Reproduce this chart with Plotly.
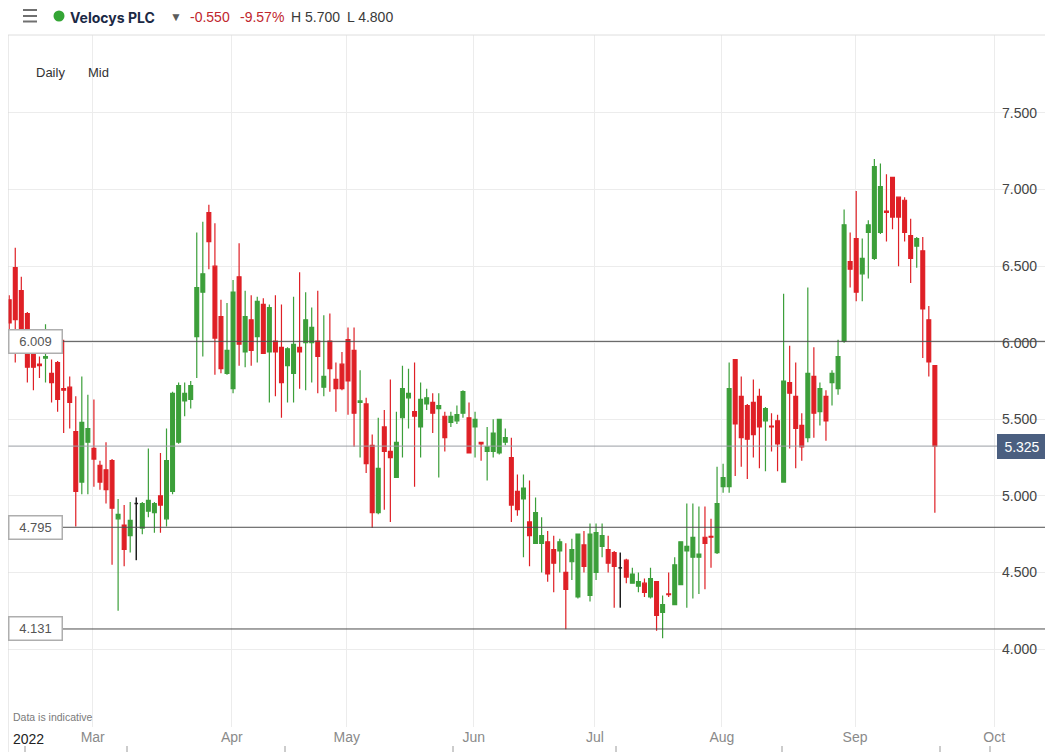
import numpy as np
import pandas as pd
import plotly.graph_objects as go

# ---------------- data ----------------
uk_holidays = ["2022-04-15", "2022-04-18", "2022-05-02", "2022-06-02",
               "2022-06-03", "2022-08-29", "2022-09-19"]
dates = pd.bdate_range("2022-02-09", "2022-09-21", freq="C", holidays=uk_holidays)

opens = [6.28, 6.49, 6.34, 6.19, 6.08, 5.86, 5.90, 5.80, 5.87, 5.70,
         5.71, 5.42, 5.09, 5.35, 5.31, 5.20, 5.17, 5.23, 4.85, 4.81,
         4.74, 4.95, 4.79, 4.90, 4.89, 5.00, 4.85, 5.03, 5.35, 5.62,
         5.63, 6.04, 6.33, 6.85, 6.50, 6.17, 5.80, 5.70, 6.43, 5.94,
         6.15, 6.04, 6.25, 5.94, 6.01, 5.97, 5.85, 5.80, 5.97, 6.00,
         6.00, 6.01, 5.71, 6.01, 5.76, 5.86, 6.02, 5.95, 5.61, 5.60,
         5.33, 4.89, 5.45, 5.29, 5.12, 5.51, 5.64, 5.55, 5.45, 5.60,
         5.61, 5.57, 5.52, 5.48, 5.49, 5.54, 5.51, 5.45, 5.35, 5.29,
         5.29, 5.28, 5.35, 5.25, 5.03, 4.98, 4.83, 4.69, 4.69, 4.70,
         4.65, 4.64, 4.50, 4.57, 4.34, 4.68, 4.35, 4.50, 4.67, 4.65,
         4.63, 4.53, 4.58, 4.43, 4.41, 4.43, 4.34, 4.44, 4.24, 4.36,
         4.29, 4.42, 4.64, 4.60, 4.60, 4.73, 4.735, 4.63, 5.06, 5.06,
         5.89, 5.65, 5.59, 5.61, 5.65, 5.49, 5.455, 5.49, 5.09, 5.74,
         5.65, 5.46, 5.38, 5.78, 5.55, 5.65, 5.74, 5.70, 6.01, 6.53,
         6.68, 6.45, 6.72, 6.55, 6.72, 6.86, 7.08, 6.95, 6.93, 6.70,
         6.63, 6.60, 6.15, 5.85]
highs = [6.31, 6.62, 6.43, 6.20, 6.09, 5.91, 6.12, 5.89, 5.88, 6.02,
         5.78, 5.65, 5.78, 5.66, 5.63, 5.23, 5.35, 5.24, 4.98, 4.94,
         4.96, 4.99, 4.96, 5.31, 4.96, 5.28, 5.44, 5.68, 5.74, 5.74,
         5.75, 6.72, 6.79, 6.90, 6.78, 6.28, 6.26, 6.41, 6.65, 6.34,
         6.31, 6.30, 6.29, 6.25, 6.31, 6.25, 5.97, 6.30, 6.46, 6.33,
         6.23, 6.34, 6.18, 6.19, 5.87, 5.94, 6.10, 6.10, 5.82, 5.64,
         5.40, 5.51, 5.56, 5.76, 5.55, 5.85, 5.83, 5.87, 5.74, 5.70,
         5.67, 5.67, 5.55, 5.55, 5.59, 5.69, 5.61, 5.55, 5.35, 5.45,
         5.50, 5.50, 5.44, 5.38, 5.14, 5.14, 5.10, 4.99, 4.86, 4.77,
         4.74, 4.72, 4.69, 4.72, 4.75, 4.77, 4.82, 4.82, 4.82, 4.74,
         4.64, 4.63, 4.59, 4.53, 4.50, 4.46, 4.53, 4.44, 4.35, 4.50,
         4.60, 4.70, 4.95, 4.95, 4.93, 4.93, 4.85, 5.19, 5.21, 5.87,
         5.89, 5.78, 5.60, 5.76, 5.70, 5.58, 5.54, 5.53, 6.32, 5.98,
         5.87, 5.54, 6.36, 5.97, 5.74, 5.69, 5.82, 6.02, 6.87, 6.72,
         6.99, 6.68, 6.80, 7.20, 7.17, 7.10, 7.08, 6.95, 6.95, 6.81,
         6.69, 6.69, 6.24, 5.85]
lows = [6.08, 5.87, 6.05, 5.74, 5.69, 5.77, 5.74, 5.61, 5.55, 5.41,
        5.44, 4.80, 5.01, 5.01, 5.06, 5.04, 4.95, 4.55, 4.25, 4.54,
        4.63, 4.58, 4.75, 4.86, 4.76, 4.76, 4.80, 5.01, 5.34, 5.52,
        5.57, 5.77, 5.91, 6.48, 5.79, 5.80, 5.79, 5.67, 5.85, 5.84,
        5.85, 5.87, 5.93, 5.61, 5.65, 5.51, 5.61, 5.61, 5.70, 5.69,
        5.74, 5.67, 5.65, 5.68, 5.55, 5.69, 5.53, 5.32, 5.25, 5.15,
        4.79, 4.88, 4.91, 4.83, 5.12, 5.25, 5.44, 5.06, 5.25, 5.56,
        5.41, 5.12, 5.29, 5.45, 5.47, 5.51, 5.28, 5.25, 5.23, 5.10,
        5.25, 5.27, 5.33, 4.83, 4.87, 4.60, 4.54, 4.69, 4.50, 4.44,
        4.37, 4.50, 4.13, 4.45, 4.33, 4.50, 4.31, 4.45, 4.60, 4.50,
        4.27, 4.27, 4.43, 4.43, 4.37, 4.34, 4.33, 4.12, 4.07, 4.34,
        4.29, 4.42, 4.27, 4.33, 4.36, 4.39, 4.53, 4.62, 5.02, 5.02,
        5.13, 5.19, 5.11, 5.25, 5.18, 5.16, 5.29, 5.16, 5.09, 5.31,
        5.18, 5.23, 5.35, 5.38, 5.46, 5.36, 5.59, 5.66, 6.00, 6.36,
        6.27, 6.27, 6.42, 6.54, 6.71, 6.66, 6.74, 6.50, 6.66, 6.39,
        6.49, 5.90, 5.78, 4.89]
closes = [6.13, 6.15, 6.08, 5.84, 5.84, 5.85, 5.91, 5.74, 5.63, 5.69,
          5.61, 5.03, 5.48, 5.44, 5.24, 5.09, 5.04, 4.92, 4.88, 4.65,
          4.84, 4.95, 4.95, 4.97, 4.95, 4.94, 5.23, 5.67, 5.72, 5.67,
          5.72, 6.36, 6.45, 6.66, 6.03, 5.83, 5.95, 6.33, 5.99, 6.17,
          5.95, 6.27, 5.93, 6.23, 5.94, 5.74, 5.96, 5.99, 5.94, 6.15,
          6.10, 5.91, 5.78, 5.83, 5.70, 5.70, 5.75, 5.54, 5.62, 5.21,
          4.89, 5.18, 5.29, 5.25, 5.35, 5.70, 5.67, 5.52, 5.63, 5.64,
          5.54, 5.59, 5.38, 5.52, 5.53, 5.68, 5.28, 5.50, 5.34, 5.32,
          5.41, 5.50, 5.38, 4.94, 4.91, 5.05, 4.74, 4.89, 4.74, 4.49,
          4.56, 4.70, 4.39, 4.65, 4.75, 4.54, 4.75, 4.76, 4.74, 4.56,
          4.54, 4.53, 4.47, 4.49, 4.44, 4.37, 4.46, 4.22, 4.29, 4.355,
          4.55, 4.70, 4.67, 4.73, 4.62, 4.69, 4.73, 4.95, 5.12, 5.70,
          5.47, 5.38, 5.37, 5.40, 5.45, 5.57, 5.45, 5.34, 5.75, 5.67,
          5.44, 5.32, 5.80, 5.54, 5.70, 5.49, 5.80, 5.91, 6.77, 6.48,
          6.33, 6.55, 6.77, 7.15, 7.02, 6.85, 6.82, 6.82, 6.72, 6.55,
          6.68, 6.22, 5.875, 5.325]

ref_levels = [6.009, 4.795, 4.131]
y_ticks = [4.0, 4.5, 5.0, 5.5, 6.0, 6.5, 7.0, 7.5]
month_labels = ["Mar", "Apr", "May", "Jun", "Jul", "Aug", "Sep", "Oct"]
year_label = "2022"
header_name = "Velocys PLC"
header_change = "-0.550"
header_pct = "-9.57%"
header_high = "H 5.700"
header_low = "L 4.800"

n = len(closes)
assert len(dates) == n == len(opens) == len(highs) == len(lows)
idx = np.arange(n)

# month tick positions (first trading day of each month, Oct extrapolated)
first_pos = {}
for i, d in enumerate(dates):
    key = d.strftime("%b")
    if key not in first_pos:
        first_pos[key] = i
tick_pos = [first_pos[m] - 0.2 for m in month_labels[:-1]]
tick_pos.append(n - 1 + (pd.Timestamp("2022-10-01") - dates[-1]).days - 0.2)

# ---------------- style ----------------
GREEN = "#3c9f3a"
RED = "#df2026"
OFF = 8                      # page body margin of the html page
SW, SH = 1053, 752           # screenshot size
W, H = SW - OFF, SH - OFF    # figure size
ML, MR, MT, MB = 0, 3, 27, 25
PW, PH = W - ML - MR, H - MT - MB


def fx(sx):
    """screen px -> paper x"""
    return (sx - OFF - ML) / PW


def fy(sy):
    """screen px -> paper y"""
    return (H - MB - (sy - OFF)) / PH


is_flat = [o == c for o, c in zip(opens, closes)]


def mask(arr):
    return [None if f else v for v, f in zip(arr, is_flat)]


fig = go.Figure()
fig.add_trace(go.Candlestick(
    x=idx, open=mask(opens), high=mask(highs), low=mask(lows), close=mask(closes),
    increasing=dict(line=dict(color=GREEN, width=1.2), fillcolor=GREEN),
    decreasing=dict(line=dict(color=RED, width=1.2), fillcolor=RED),
    whiskerwidth=0, text=[d.strftime("%d %b %Y") for d in dates],
    name=header_name, showlegend=False))

# unchanged (open == close) sessions drawn in black
flat_x, flat_y = [], []
for i in np.where(is_flat)[0]:
    flat_x += [i, i, None, i - 0.3, i + 0.3, None]
    flat_y += [lows[i], highs[i], None, opens[i], opens[i], None]
fig.add_trace(go.Scatter(x=flat_x, y=flat_y, mode="lines",
                         line=dict(color="#1e1e1e", width=1.5),
                         hoverinfo="skip", showlegend=False))

shapes = []
for lv in ref_levels:
    shapes.append(dict(type="line", xref="paper", yref="y", x0=0, x1=1, y0=lv, y1=lv,
                       line=dict(color="#4d4d4d", width=1), layer="above"))
last_close = closes[-1]
shapes.append(dict(type="line", xref="paper", yref="y", x0=0, x1=1, y0=last_close, y1=last_close,
                   line=dict(color="#9a9ea4", width=1), layer="above"))
# frame / header separators
shapes.append(dict(type="line", xref="paper", yref="paper", x0=0, x1=fx(SW), y0=1, y1=1,
                   line=dict(color="#dedede", width=1)))
shapes.append(dict(type="line", xref="paper", yref="paper", x0=0, x1=0, y0=fy(SH), y1=1,
                   line=dict(color="#d6d6d6", width=1)))
shapes.append(dict(type="line", xref="paper", yref="paper", x0=1, x1=1, y0=fy(SH), y1=1,
                   line=dict(color="#e2e2e2", width=1)))
# hamburger icon
for yy in (10, 16, 21.5):
    shapes.append(dict(type="line", xref="paper", yref="paper", x0=fx(23), x1=fx(37),
                       y0=fy(yy), y1=fy(yy), line=dict(color="#707070", width=2)))
# green status dot
shapes.append(dict(type="circle", xref="paper", yref="paper", x0=fx(53.5), x1=fx(64.5),
                   y0=fy(21.5), y1=fy(10.5), fillcolor="#34a535", line=dict(width=0)))
# bottom navigator ticks
for xx in (25, 127, 285, 453, 616, 782, 940, 990):
    shapes.append(dict(type="line", xref="paper", yref="paper", x0=fx(xx), x1=fx(xx),
                       y0=fy(752), y1=fy(746), line=dict(color="#9a9a9a", width=1)))

annotations = []
for lv in ref_levels:
    annotations.append(dict(text=f"{lv:.3f}", xref="paper", yref="y", x=0, y=lv,
                            xanchor="left", yanchor="middle", showarrow=False,
                            bgcolor="white", bordercolor="#aeaeae", borderwidth=1.5,
                            borderpad=1, width=50, height=20, align="center",
                            font=dict(size=13, color="#555555")))
annotations.append(dict(text=f"{last_close:.3f}", xref="paper", yref="y", x=1, y=last_close,
                        xanchor="right", yanchor="middle", xshift=-3, showarrow=False,
                        bgcolor="#4b5f80", bordercolor="#4b5f80", borderwidth=1,
                        borderpad=2, width=44, height=19, align="center",
                        font=dict(size=14, color="white")))


def label(text, x, y, size=14, color="#333333", family=None, bold=False):
    t = f"<b>{text}</b>" if bold else text
    f = dict(size=size, color=color)
    if family:
        f["family"] = family
    annotations.append(dict(text=t, xref="paper", yref="paper", x=fx(x), y=fy(y),
                            xanchor="left", yanchor="middle", showarrow=False, font=f))


label(header_name, 68, 17.5, size=14, color="#1b2945", family="Inter, Liberation Sans", bold=True)
label("▼", 168, 17.5, size=12, color="#5c5c5c")
label(header_change, 188, 17.5, size=14, color="#c0262d")
label(header_pct, 238, 17.5, size=14, color="#c0262d")
label(header_high, 289, 17.5, size=14, color="#3a3a3a")
label(header_low, 345, 17.5, size=14, color="#3a3a3a")
label("Daily", 34, 73, size=13, color="#333333")
label("Mid", 86, 73, size=13, color="#333333")
label("Data is indicative", 11, 717, size=10.5, color="#7a7a7a")
label(year_label, 11, 738.5, size=14, color="#222222")

fig.update_layout(
    width=W, height=H, margin=dict(l=ML, r=MR, t=MT, b=MB),
    paper_bgcolor="white", plot_bgcolor="white", showlegend=False,
    boxgap=0.3, boxgroupgap=0.1,
    font=dict(family="Liberation Sans, Arial, sans-serif", color="#333333"),
    xaxis=dict(range=[-0.2, -0.2 + PW / 6.05], tickvals=tick_pos, ticktext=month_labels,
               showgrid=True, gridcolor="#ececec", gridwidth=1, zeroline=False,
               ticks="", showline=False, tickfont=dict(size=14, color="#8a8a8a"),
               rangeslider=dict(visible=False)),
    yaxis=dict(range=[3.491, 8.009], tickvals=y_ticks, tickformat=".3f", side="right",
               ticklabelposition="inside", ticklabelstandoff=10,
               showgrid=True, gridcolor="#ececec", gridwidth=1, zeroline=False,
               ticks="", showline=False, tickfont=dict(size=14, color="#444444")),
    shapes=shapes, annotations=annotations,
    hovermode="x",
)

fig.write_html("out.html")
